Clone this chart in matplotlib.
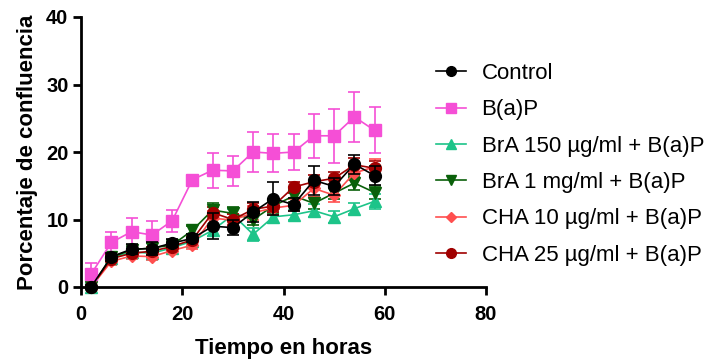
import matplotlib
matplotlib.use("Agg")
import matplotlib.pyplot as plt
from matplotlib.lines import Line2D

plt.rcParams['font.family'] = ['Liberation Sans', 'DejaVu Sans']

hours = [2, 6, 10, 14, 18, 22, 26, 30, 34, 38, 42, 46, 50, 54, 58]

control = [0.0, 4.5, 5.6, 5.7, 6.5, 7.2, 9.0, 8.8, 11.1, 13.1, 12.2, 15.8, 14.9, 18.2, 16.5]
control_err = [0.3, 0.6, 0.7, 0.9, 0.6, 0.6, 1.9, 1.1, 1.5, 2.5, 1.0, 2.1, 1.3, 1.4, 1.4]

bap = [1.9, 6.6, 8.2, 7.7, 9.8, 15.9, 17.3, 17.2, 20.0, 19.8, 20.0, 22.4, 22.4, 25.2, 23.2]
bap_err = [1.6, 1.6, 2.0, 2.1, 1.6, 0.3, 2.6, 2.2, 2.9, 2.8, 2.7, 3.3, 4.0, 3.7, 3.4]

bra150 = [0.0, 4.3, 5.2, 5.0, 5.8, 6.8, 8.4, 10.7, 7.8, 10.4, 10.7, 11.3, 10.4, 11.6, 12.7]
bra150_err = [0.4, 0.5, 0.6, 0.6, 0.5, 0.5, 0.9, 0.8, 1.0, 0.9, 0.7, 1.0, 0.9, 0.8, 1.1]

bra1 = [0.0, 4.4, 5.5, 5.8, 6.2, 8.4, 11.4, 10.9, 10.0, 12.0, 13.5, 12.4, 13.9, 15.4, 14.0]
bra1_err = [0.3, 0.5, 0.6, 0.7, 0.5, 0.6, 1.0, 0.9, 0.8, 1.0, 0.9, 0.9, 0.8, 1.0, 0.9]

cha10 = [0.0, 3.8, 4.6, 4.5, 5.4, 6.2, 10.2, 9.9, 11.0, 11.7, 12.1, 14.6, 13.6, 16.9, 17.8]
cha10_err = [0.3, 0.5, 0.5, 0.5, 0.5, 0.5, 1.0, 0.9, 1.0, 1.0, 0.9, 1.2, 1.0, 1.1, 1.2]

cha25 = [0.0, 4.2, 5.0, 5.3, 6.0, 7.0, 11.0, 10.0, 11.5, 12.0, 14.8, 15.6, 16.1, 18.1, 17.6]
cha25_err = [0.3, 0.5, 0.5, 0.6, 0.5, 0.5, 0.9, 0.8, 1.0, 0.9, 0.8, 1.0, 0.9, 1.0, 1.0]

labels = ["Control", "B(a)P", "BrA 150 µg/ml + B(a)P", "BrA 1 mg/ml + B(a)P",
          "CHA 10 µg/ml + B(a)P", "CHA 25 µg/ml + B(a)P"]
colors = ["#000000", "#f54fd6", "#1dc489", "#0a600a", "#ff4f4f", "#a00000"]
markers = ["o", "s", "^", "v", "D", "o"]
msizes = [8.5, 8.5, 8.5, 8.5, 6.5, 8.5]

series = [(control, control_err), (bap, bap_err), (bra150, bra150_err),
          (bra1, bra1_err), (cha10, cha10_err), (cha25, cha25_err)]

fig = plt.figure(figsize=(7.27, 3.60), dpi=100)
ax = fig.add_axes([81/727, 1 - 287/360, 405/727, 270/360])

order = [2, 3, 4, 5, 1, 0]
for i in order:
    vals, err = series[i]
    ax.errorbar(hours, vals, yerr=err, color=colors[i], marker=markers[i],
                markersize=msizes[i], linewidth=1.2, elinewidth=1.2,
                capsize=4, capthick=1.2, zorder=3 + (i == 0), clip_on=False)

ax.set_xlim(0, 80)
ax.set_ylim(0, 40)
ax.set_xticks([0, 20, 40, 60, 80])
ax.set_yticks([0, 10, 20, 30, 40])
for s in ["top", "right"]:
    ax.spines[s].set_visible(False)
for s in ["left", "bottom"]:
    ax.spines[s].set_linewidth(2)
ax.tick_params(width=2, length=6, labelsize=14.5, pad=3)
ax.tick_params(axis="x", pad=7)
for lab in ax.get_xticklabels() + ax.get_yticklabels():
    lab.set_fontweight("bold")
ax.set_xlabel("Tiempo en horas", fontsize=16, fontweight="bold", labelpad=10)
ax.set_ylabel("Porcentaje de confluencia", fontsize=16, fontweight="bold", labelpad=6)

handles = [Line2D([0], [0], color=colors[i], marker=markers[i],
                  markersize=(7 if markers[i] != "D" else 5.5), linewidth=1.2)
           for i in range(6)]
fig.legend(handles, labels, loc="upper left", bbox_to_anchor=(436/727, 1 - 63/360),
           bbox_transform=fig.transFigure, frameon=False, fontsize=16,
           handlelength=1.35, handletextpad=0.7, labelspacing=0.69,
           borderpad=0, borderaxespad=0)

fig.savefig("out.png", dpi=100)
